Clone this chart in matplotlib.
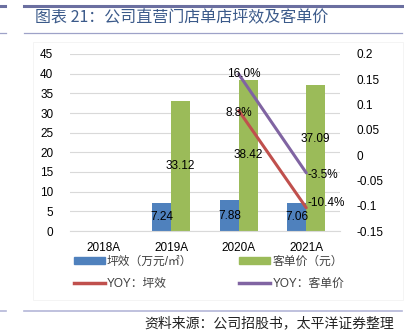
import numpy as np
import matplotlib.pyplot as plt
from matplotlib.patches import Patch, Rectangle
from matplotlib.lines import Line2D

plt.rcParams['font.family'] = ['Liberation Sans', 'Noto Sans CJK SC']

years = ['2018A', '2019A', '2020A', '2021A']
pingxiao = [np.nan, 7.24, 7.88, 7.06]        # 万元/㎡
kedanjia = [np.nan, 33.12, 38.42, 37.09]     # 元
yoy_pingxiao = [np.nan, np.nan, 0.088, -0.104]
yoy_kedanjia = [np.nan, np.nan, 0.160, -0.035]

blue = '#4F81BD'
green = '#9BBB59'
red = '#C0504D'
purple = '#8064A2'

fig = plt.figure(figsize=(4.04, 3.35), dpi=100)
ax = fig.add_axes([70 / 404, 1 - 231 / 335, 270 / 404, 177 / 335])
ax2 = ax.twinx()

x = np.arange(len(years))
w = 0.28
ax.bar(x - w / 2, pingxiao, w, color=blue, zorder=2)
ax.bar(x + w / 2, kedanjia, w, color=green, zorder=2)

ax.set_xlim(-0.5, 3.5)
ax.set_ylim(0, 45)
ax.set_yticks(np.arange(0, 46, 5))
ax.set_xticks(x, years)
ax.grid(axis='y', color='#D9D9D9', lw=0.8, zorder=0)
ax.set_axisbelow(True)
for s in ['top', 'left', 'right']:
    ax.spines[s].set_visible(False)
ax.spines['bottom'].set_color('#D9D9D9')
ax.tick_params(axis='both', length=0, labelsize=8.5)
ax.tick_params(axis='y', pad=12)
ax.tick_params(axis='x', pad=8)

ax2.plot(x, yoy_pingxiao, color=red, lw=2.2, solid_capstyle='round')
ax2.plot(x, yoy_kedanjia, color=purple, lw=2.2, solid_capstyle='round')
ax2.set_ylim(-0.15, 0.2)
ax2.set_yticks([-0.15, -0.1, -0.05, 0, 0.05, 0.1, 0.15, 0.2])
ax2.set_yticklabels(['-0.15', '-0.1', '-0.05', '0', '0.05', '0.1', '0.15', '0.2'])
ax2.tick_params(axis='y', length=0, labelsize=8.5, pad=12)
for s in ax2.spines.values():
    s.set_visible(False)

# bar value labels
for i in range(len(years)):
    if not np.isnan(pingxiao[i]):
        ax.text(x[i] - w / 2, pingxiao[i] / 2, f'{pingxiao[i]:.2f}',
                ha='center', va='center', fontsize=8.5)
    if not np.isnan(kedanjia[i]):
        yy = kedanjia[i] / 2 if i < 3 else kedanjia[i] * 0.63
        ax.text(x[i] + w / 2, yy, f'{kedanjia[i]:.2f}',
                ha='center', va='center', fontsize=8.5)

# line labels
ax2.text(x[2] + 0.08, yoy_kedanjia[2], f'{yoy_kedanjia[2]*100:.1f}%',
         ha='center', va='center', fontsize=8.5)
ax2.text(x[2], yoy_pingxiao[2] - 0.004, f'{yoy_pingxiao[2]*100:.1f}%',
         ha='center', va='center', fontsize=8.5)
ax2.text(x[3] + 0.02, yoy_kedanjia[3] - 0.005, f'{yoy_kedanjia[3]*100:.1f}%',
         ha='left', va='center', fontsize=8.5)
ax2.text(x[3] + 0.02, yoy_pingxiao[3] + 0.01, f'{yoy_pingxiao[3]*100:.1f}%',
         ha='left', va='center', fontsize=8.5)

handles = [Patch(color=blue), Line2D([], [], color=red, lw=2.5),
           Patch(color=green), Line2D([], [], color=purple, lw=2.5)]
labels = ['坪效（万元/㎡）', 'YOY：坪效', '客单价（元）', 'YOY：客单价']
leg = fig.legend(handles, labels, ncol=2, loc='upper left',
                 bbox_to_anchor=(74 / 404, 1 - 256 / 335), frameon=False,
                 fontsize=8.5, handlelength=2.6, handleheight=0.55,
                 handletextpad=0.2, columnspacing=3.95, labelspacing=0.85,
                 borderpad=0, borderaxespad=0)
for t in leg.get_texts():
    t.set_color('#404040')

# chart area frame
fig.add_artist(Rectangle((33 / 404, 1 - 300 / 335), 370 / 404, 258 / 335,
                         transform=fig.transFigure, fill=False,
                         ec='#F3F3F3', lw=0.6))

# title and rules
fig.add_artist(Line2D([24 / 404, 402 / 404], [1 - 6 / 335] * 2,
                      color='#6B6FA0', lw=2.2, transform=fig.transFigure))
fig.add_artist(Line2D([0, 5 / 404], [1 - 6 / 335] * 2,
                      color='#6B6FA0', lw=2.2, transform=fig.transFigure))
fig.add_artist(Line2D([24 / 404, 402 / 404], [1 - 33 / 335] * 2,
                      color='#9EA2C8', lw=0.9, transform=fig.transFigure))
fig.add_artist(Line2D([0, 6 / 404], [1 - 33 / 335] * 2,
                      color='#9EA2C8', lw=0.9, transform=fig.transFigure))
fig.add_artist(Line2D([24 / 404, 402 / 404], [1 - 311 / 335] * 2,
                      color='#B4B6D8', lw=1.2, transform=fig.transFigure))
fig.add_artist(Line2D([0, 6 / 404], [1 - 311 / 335] * 2,
                      color='#B4B6D8', lw=1.2, transform=fig.transFigure))
fig.text(35 / 404, 1 - 18 / 335, '图表 21：公司直营门店单店坪效及客单价',
         fontsize=11.5, color='#3B5A8A', va='center', ha='left',
         family=['Noto Sans CJK SC', 'DejaVu Sans'])
fig.text(394 / 404, 1 - 323 / 335, '资料来源：公司招股书，太平洋证券整理',
         fontsize=10, color='#222222', va='center', ha='right',
         family=['Noto Sans CJK SC', 'DejaVu Sans'])

fig.savefig('out.png', dpi=100)
